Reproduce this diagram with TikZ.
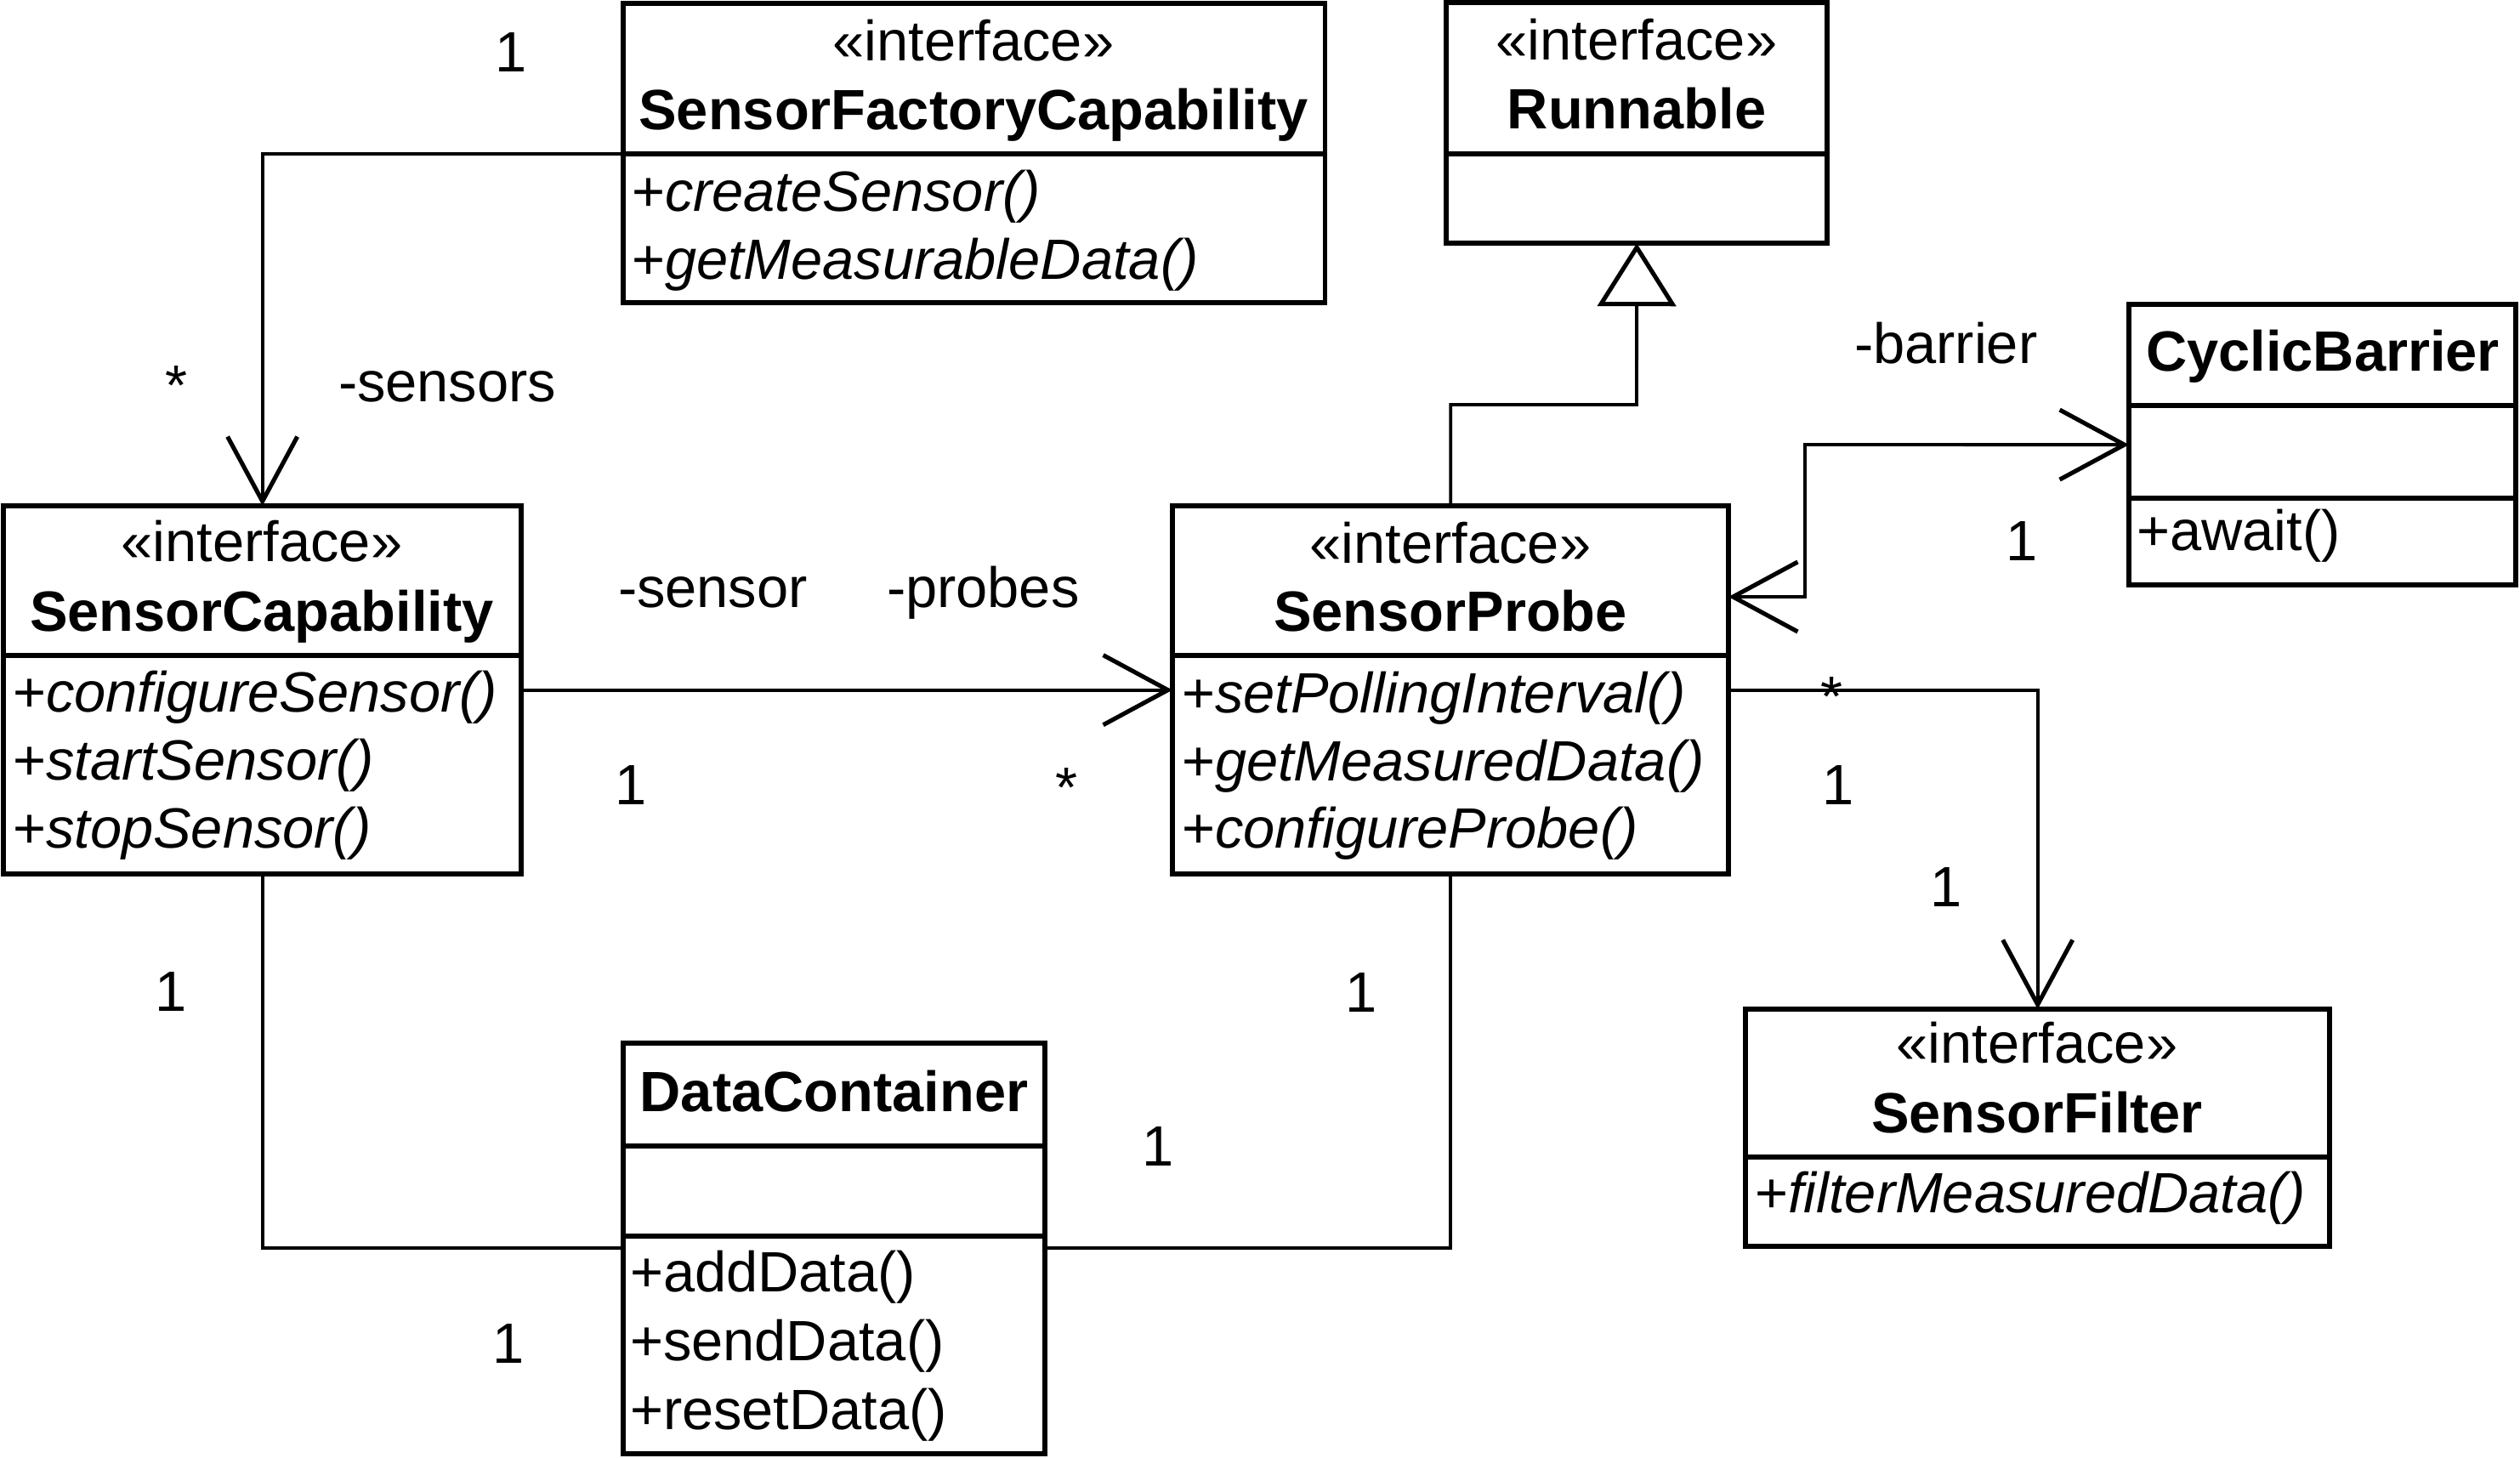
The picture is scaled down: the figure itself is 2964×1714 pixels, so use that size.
\documentclass[tikz,border=0pt]{standalone}
\usepackage{fontspec}
\setmainfont{Liberation Sans}
\usetikzlibrary{arrows.meta}
\tikzset{
  barb/.tip={Straight Barb[length=0.76cm,width=0.82cm,line width=1.45pt]},
  gentip/.tip={Triangle[open,length=0.74cm,width=0.92cm,line width=1.45pt]},
}
\begin{document}
\begin{tikzpicture}[x=0.01cm,y=-0.01cm,
  every node/.style={font=\fontsize{19pt}{22pt}\selectfont, inner sep=0pt, outer sep=0pt},
  box/.style={draw, line width=1.7pt, rectangle, inner sep=0pt, anchor=north west},
  divline/.style={line width=1.6pt},
  conn/.style={line width=1.1pt},
  assoc/.style={conn,-barb},
  biassoc/.style={conn,barb-barb},
  gen/.style={conn,-gentip},
  lbl/.style={anchor=base},
  mth/.style={anchor=base west},
]
\useasboundingbox (0,0) rectangle (2964,1714);

% ---------- boxes ----------
\node[box, minimum width=8.25cm, minimum height=3.52cm] (sfc) at (733,4) {};
\draw[divline] (733,181) -- (1558,181);
\node[lbl] (sfc-st) at (1145,71) {«interface»};
\node[lbl] (sfc-nm) at (1145,152) {\textbf{SensorFactoryCapability}};
\node[mth] (sfc-m1) at (743,248) {+\textit{createSensor()}};
\node[mth] (sfc-m2) at (743,328) {+\textit{getMeasurableData()}};

\node[box, minimum width=4.48cm, minimum height=2.83cm] (run) at (1701,3) {};
\draw[divline] (1701,181) -- (2149,181);
\node[lbl] (run-st) at (1925,70) {«interface»};
\node[lbl] (run-nm) at (1925,151) {\textbf{Runnable}};

\node[box, minimum width=4.55cm, minimum height=3.30cm] (cb) at (2504,358) {};
\draw[divline] (2504,477) -- (2959,477);
\draw[divline] (2504,586) -- (2959,586);
\node[lbl] (cb-nm) at (2732,436) {\textbf{CyclicBarrier}};
\node[mth] (cb-m1) at (2513,647) {+await()};

\node[box, minimum width=6.54cm, minimum height=4.33cm] (sp) at (1379,595) {};
\draw[divline] (1379,771) -- (2033,771);
\node[lbl] (sp-st) at (1706,662) {«interface»};
\node[lbl] (sp-nm) at (1706,742) {\textbf{SensorProbe}};
\node[mth] (sp-m1) at (1390,838) {+\textit{setPollingInterval()}};
\node[mth] (sp-m2) at (1390,918) {+\textit{getMeasuredData()}};
\node[mth] (sp-m3) at (1390,997) {+\textit{configureProbe()}};

\node[box, minimum width=6.09cm, minimum height=4.33cm] (scap) at (4,595) {};
\draw[divline] (4,771) -- (613,771);
\node[lbl] (scap-st) at (308,660) {«interface»};
\node[lbl] (scap-nm) at (308,742) {\textbf{SensorCapability}};
\node[mth] (scap-m1) at (15,837) {+\textit{configureSensor()}};
\node[mth] (scap-m2) at (15,917) {+\textit{startSensor()}};
\node[mth] (scap-m3) at (15,997) {+\textit{stopSensor()}};

\node[box, minimum width=4.96cm, minimum height=4.83cm] (dc) at (733,1227) {};
\draw[divline] (733,1348) -- (1229,1348);
\draw[divline] (733,1454) -- (1229,1454);
\node[lbl] (dc-nm) at (981,1307) {\textbf{DataContainer}};
\node[mth] (dc-m1) at (741,1519) {+addData()};
\node[mth] (dc-m2) at (741,1600) {+sendData()};
\node[mth] (dc-m3) at (741,1681) {+resetData()};

\node[box, minimum width=6.87cm, minimum height=2.79cm] (sf) at (2053,1187) {};
\draw[divline] (2053,1361) -- (2740,1361);
\node[lbl] (sf-st) at (2396,1250) {«interface»};
\node[lbl] (sf-nm) at (2396,1332) {\textbf{SensorFilter}};
\node[mth] (sf-m1) at (2064,1426) {+\textit{filterMeasuredData()}};

% ---------- connectors ----------
\coordinate (sfc-out) at (733,181);
\draw[assoc] (sfc-out) -| (scap.north);

\draw[assoc] (scap.east |- sp.west) -- (sp.west);

\coordinate (dc-l) at (733,1468);
\coordinate (dc-r) at (1229,1468);
\draw[conn] (scap.south) |- (dc-l);
\draw[conn] (sp.south) |- (dc-r);

\coordinate (gen-bend) at (1925,476);
\draw[gen] (sp.north) |- (gen-bend) -- (run.south);

\coordinate (sp-b) at (2033,702);
\coordinate (b-bend) at (2123,523);
\draw[biassoc] (sp-b) -| (b-bend) -- (cb.west);

\draw[assoc] (sp.east) -| (sf.north);

% ---------- labels ----------
\node[lbl] (l1) at (601,84) {1};
\node[lbl] (l2) at (207,476) {*};
\node[anchor=base west] (l3) at (398,472) {-sensors};
\node[anchor=base west] (l4) at (727,714) {-sensor};
\node[anchor=base west] (l5) at (1043,714) {-probes};
\node[lbl] (l6) at (742,946) {1};
\node[lbl] (l7) at (1254,949) {*};
\node[lbl] (l8) at (201,1189) {1};
\node[lbl] (l9) at (598,1603) {1};
\node[lbl] (l10) at (1362,1371) {1};
\node[lbl] (l11) at (1601,1190) {1};
\node[anchor=base west] (l12) at (2181,427) {-barrier};
\node[lbl] (l13) at (2378,659) {1};
\node[lbl] (l14) at (2154,842) {*};
\node[lbl] (l15) at (2162,946) {1};
\node[lbl] (l16) at (2289,1066) {1};
\end{tikzpicture}
\end{document}
